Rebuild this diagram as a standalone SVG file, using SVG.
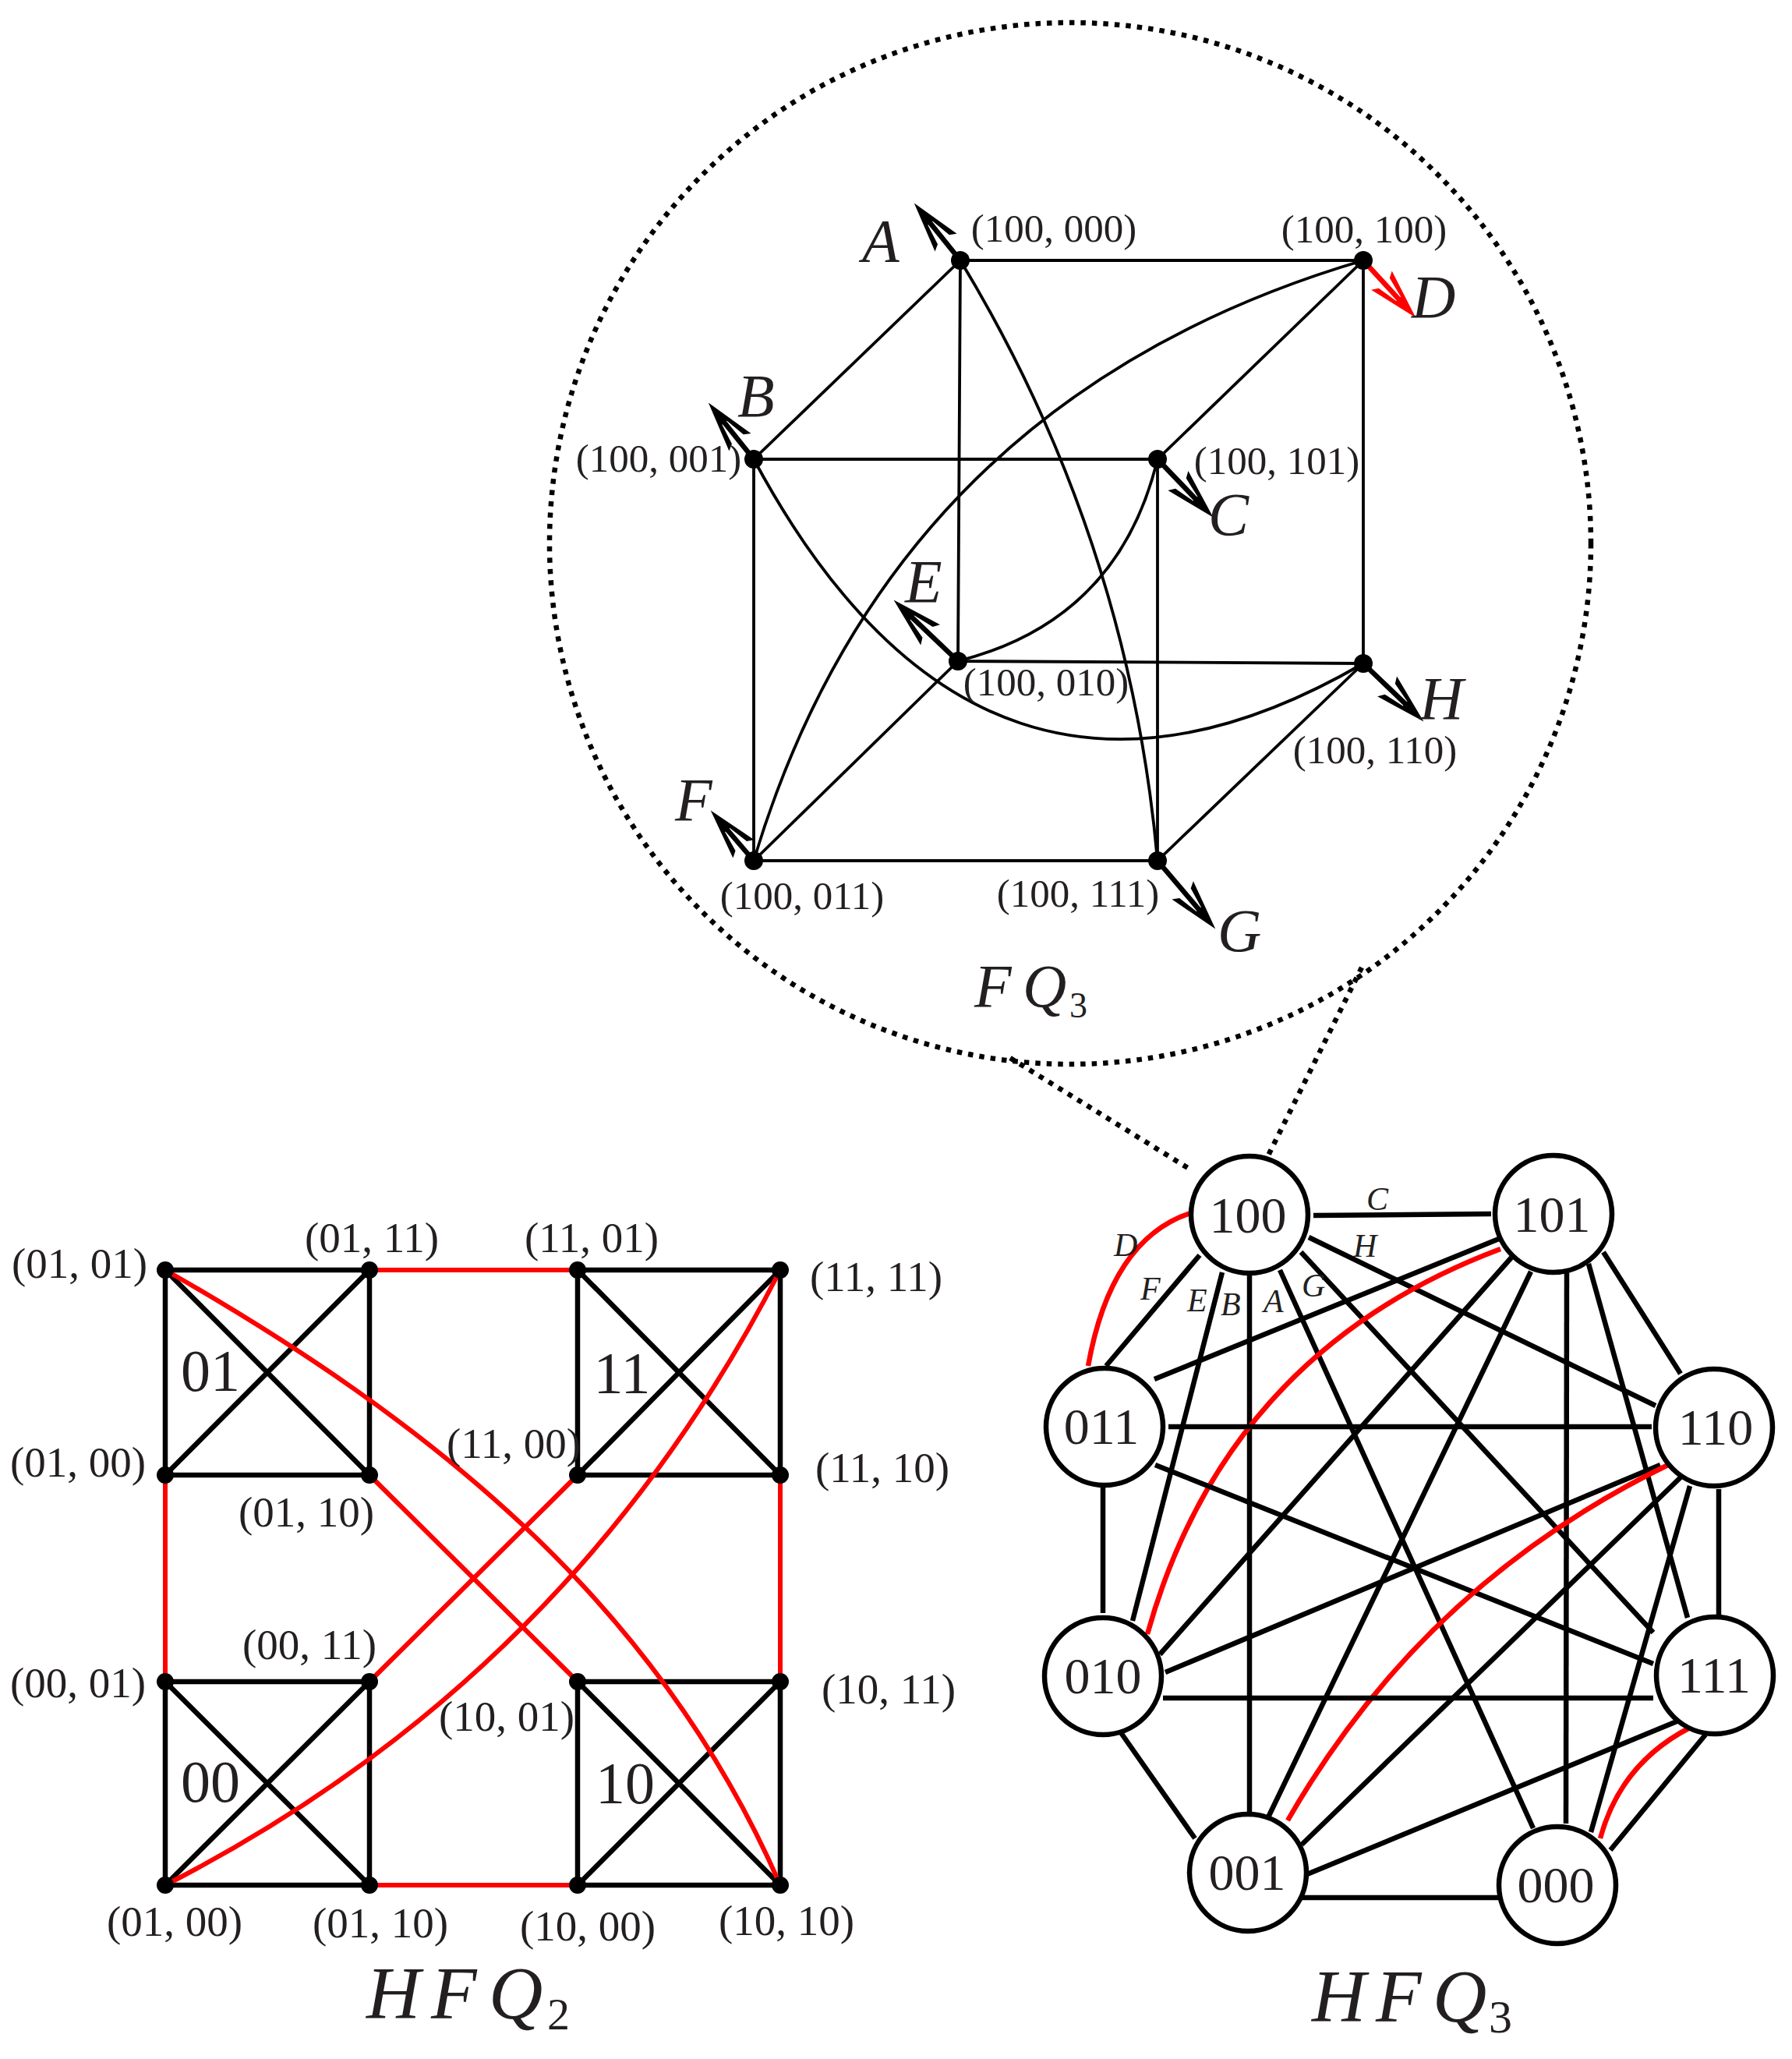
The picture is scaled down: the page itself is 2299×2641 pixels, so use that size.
<svg xmlns="http://www.w3.org/2000/svg" width="2299" height="2641" viewBox="0 0 2299 2641">
<style>
.t{font-family:"Liberation Serif","Times New Roman",serif;fill:#231f20}
.it{font-style:italic}
.m{text-anchor:middle}
.fq{stroke:#000;stroke-width:3.8;fill:none}
.arr{stroke:#000;stroke-width:6.5;fill:none}
.arrR{stroke:#f00;stroke-width:6.5;fill:none}
.h2{stroke:#000;stroke-width:6.5;fill:none}
.r2{stroke:#f00;stroke-width:6;fill:none}
.h3{stroke:#000;stroke-width:6.5;fill:none}
.r3{stroke:#f00;stroke-width:6.5;fill:none}
.dt{stroke:#000;stroke-width:6.5;stroke-dasharray:6.5 8;fill:none}
.nd{fill:#000}
.n3{fill:#fff;stroke:#000;stroke-width:6.5}
.l1{font-size:51px}
.l2{font-size:55px}
.l3{font-size:66px}
.big{font-size:78px}
.eg{font-size:42px}
</style>
<defs>
<marker id="ah" markerUnits="userSpaceOnUse" markerWidth="80" markerHeight="40" refX="0" refY="0" orient="auto" overflow="visible">
<path d="M27,0 L-38,-18 L-33,-9.5 L-6,-4 L-6,4 L-33,9.5 L-38,18 Z" fill="#000"/>
</marker>
<marker id="ahr" markerUnits="userSpaceOnUse" markerWidth="80" markerHeight="40" refX="0" refY="0" orient="auto" overflow="visible">
<path d="M27,0 L-38,-18 L-33,-9.5 L-6,-4 L-6,4 L-33,9.5 L-38,18 Z" fill="#f00"/>
</marker>
</defs>
<rect width="2299" height="2641" fill="#fff"/>

<g id="zoom-lens">
<circle class="dt" cx="1373" cy="697" r="668"/>
<path class="dt" d="M1296,1357 L1527,1500"/>
<path class="dt" d="M1747,1241 L1627,1482"/>
</g>

<g id="fq3-edges">
<path class="fq" d="M1232,334 H1749 M1749,334 V851 M1229,848 L1749,851 M1232,334 L1229,848"/>
<path class="fq" d="M967,589 H1485 M967,1104 H1485 M967,589 V1104 M1485,589 V1104"/>
<path class="fq" d="M1232,334 L967,589 M1749,334 L1485,589 M1229,848 L967,1104 M1749,851 L1485,1104"/>
<path class="fq" d="M1749,334 Q1144,512 967,1104"/>
<path class="fq" d="M1232,334 Q1448,691 1485,1104"/>
<path class="fq" d="M967,589 Q1260,1135 1749,851"/>
<path class="fq" d="M1485,589 Q1435,796 1229,848"/>
</g>

<g id="fq3-arrows">
<path class="arr" d="M1232,334 L1189.7,281.5" marker-end="url(#ah)"/>
<path class="arrR" d="M1749,334 L1798.1,387.6" marker-end="url(#ahr)"/>
<path class="arr" d="M967,589 L925.7,537.5" marker-end="url(#ah)"/>
<path class="arr" d="M1485,589 L1537.7,644" marker-end="url(#ah)"/>
<path class="arr" d="M1229,848 L1166.1,788.2" marker-end="url(#ah)"/>
<path class="arr" d="M967,1104 L929.3,1060" marker-end="url(#ah)"/>
<path class="arr" d="M1485,1104 L1541.8,1170.9" marker-end="url(#ah)"/>
<path class="arr" d="M1749,851 L1807,906.7" marker-end="url(#ah)"/>
<text class="t it big" x="1106" y="335">A</text>
<text class="t it big" x="946" y="534">B</text>
<text class="t it big" x="1550" y="686">C</text>
<text class="t it big" x="1811" y="407">D</text>
<text class="t it big" x="1161" y="772">E</text>
<text class="t it big" x="866" y="1052">F</text>
<text class="t it big" x="1562" y="1220">G</text>
<text class="t it big" x="1821" y="922">H</text>
</g>

<g id="fq3-n000"><circle class="nd" cx="1232" cy="334" r="12"/><text class="t l1 m" x="1352" y="310">(100, 000)</text></g>
<g id="fq3-n100"><circle class="nd" cx="1749" cy="334" r="12"/><text class="t l1 m" x="1750" y="311">(100, 100)</text></g>
<g id="fq3-n001"><circle class="nd" cx="967" cy="589" r="12"/><text class="t l1 m" x="845" y="605">(100, 001)</text></g>
<g id="fq3-n101"><circle class="nd" cx="1485" cy="589" r="12"/><text class="t l1 m" x="1638" y="608">(100, 101)</text></g>
<g id="fq3-n010"><circle class="nd" cx="1229" cy="848" r="12"/><text class="t l1 m" x="1342" y="892">(100, 010)</text></g>
<g id="fq3-n110"><circle class="nd" cx="1749" cy="851" r="12"/><text class="t l1 m" x="1764" y="979">(100, 110)</text></g>
<g id="fq3-n011"><circle class="nd" cx="967" cy="1104" r="12"/><text class="t l1 m" x="1029" y="1166">(100, 011)</text></g>
<g id="fq3-n111"><circle class="nd" cx="1485" cy="1104" r="12"/><text class="t l1 m" x="1383" y="1163">(100, 111)</text></g>

<g id="fq3-title">
<text class="t it" font-size="78" x="1250" y="1291">F</text>
<text class="t it" font-size="78" x="1312" y="1291">Q</text>
<text class="t" font-size="46" x="1372" y="1305">3</text>
</g>

<g id="hfq2-edges">
<path class="h2" d="M212,1629 H474 M212,1892 H474 M212,1629 V1892 M474,1629 V1892 M212,1629 L474,1892 M474,1629 L212,1892"/>
<path class="h2" d="M741,1629 H1001 M741,1892 H1001 M741,1629 V1892 M1001,1629 V1892 M741,1629 L1001,1892 M1001,1629 L741,1892"/>
<path class="h2" d="M212,2157 H474 M212,2418 H474 M212,2157 V2418 M474,2157 V2418 M212,2157 L474,2418 M474,2157 L212,2418"/>
<path class="h2" d="M741,2157 H1001 M741,2418 H1001 M741,2157 V2418 M1001,2157 V2418 M741,2157 L1001,2418 M1001,2157 L741,2418"/>
<path class="r2" d="M474,1629 H741 M212,1892 V2157 M1001,1892 V2157 M474,2418 H741"/>
<path class="r2" d="M474,1892 L741,2157 M741,1892 L474,2157"/>
<path class="r2" d="M212,1629 C546.8,1820.2 841.7,2051.3 1001,2418"/>
<path class="r2" d="M212,2418 C559.9,2239.9 822.9,1976.9 1001,1629"/>
</g>

<g id="hfq2-n0101"><circle class="nd" cx="212" cy="1629" r="11"/><text class="t l2 m" x="102" y="1639">(01, 01)</text></g>
<g id="hfq2-n0111"><circle class="nd" cx="474" cy="1629" r="11"/><text class="t l2 m" x="477" y="1606">(01, 11)</text></g>
<g id="hfq2-n1101"><circle class="nd" cx="741" cy="1629" r="11"/><text class="t l2 m" x="759" y="1606">(11, 01)</text></g>
<g id="hfq2-n1111"><circle class="nd" cx="1001" cy="1629" r="11"/><text class="t l2 m" x="1124" y="1656">(11, 11)</text></g>
<g id="hfq2-n0100"><circle class="nd" cx="212" cy="1892" r="11"/><text class="t l2 m" x="100" y="1894">(01, 00)</text></g>
<g id="hfq2-n0110"><circle class="nd" cx="474" cy="1892" r="11"/><text class="t l2 m" x="393" y="1958">(01, 10)</text></g>
<g id="hfq2-n1100"><circle class="nd" cx="741" cy="1892" r="11"/><text class="t l2 m" x="659" y="1870">(11, 00)</text></g>
<g id="hfq2-n1110"><circle class="nd" cx="1001" cy="1892" r="11"/><text class="t l2 m" x="1132" y="1901">(11, 10)</text></g>
<g id="hfq2-n0001"><circle class="nd" cx="212" cy="2157" r="11"/><text class="t l2 m" x="100" y="2177">(00, 01)</text></g>
<g id="hfq2-n0011"><circle class="nd" cx="474" cy="2157" r="11"/><text class="t l2 m" x="397" y="2128">(00, 11)</text></g>
<g id="hfq2-n1001"><circle class="nd" cx="741" cy="2157" r="11"/><text class="t l2 m" x="650" y="2220">(10, 01)</text></g>
<g id="hfq2-n1011"><circle class="nd" cx="1001" cy="2157" r="11"/><text class="t l2 m" x="1140" y="2185">(10, 11)</text></g>
<g id="hfq2-n0000"><circle class="nd" cx="212" cy="2418" r="11"/><text class="t l2 m" x="224" y="2483">(01, 00)</text></g>
<g id="hfq2-n0010"><circle class="nd" cx="474" cy="2418" r="11"/><text class="t l2 m" x="488" y="2485">(01, 10)</text></g>
<g id="hfq2-n1000"><circle class="nd" cx="741" cy="2418" r="11"/><text class="t l2 m" x="754" y="2489">(10, 00)</text></g>
<g id="hfq2-n1010"><circle class="nd" cx="1001" cy="2418" r="11"/><text class="t l2 m" x="1009" y="2482">(10, 10)</text></g>

<g id="hfq2-clusters">
<text class="t m" font-size="76" x="270" y="1784">01</text>
<text class="t m" font-size="76" x="798" y="1787">11</text>
<text class="t m" font-size="76" x="270" y="2311">00</text>
<text class="t m" font-size="76" x="802" y="2313">10</text>
</g>

<g id="hfq2-title">
<text class="t it" font-size="96" x="470" y="2589">H</text>
<text class="t it" font-size="96" x="553" y="2589">F</text>
<text class="t it" font-size="96" x="627" y="2589">Q</text>
<text class="t" font-size="58" x="702" y="2603">2</text>
</g>

<g id="hfq3-edges">
<path class="h3" d="M1685,1559 L1913,1557"/>
<path class="h3" d="M1679,1587 L2124,1803"/>
<path class="h3" d="M1669,1606 L2121,2094"/>
<path class="h3" d="M1642,1629 L1967,2345"/>
<path class="h3" d="M1603,1636 L1603,2331"/>
<path class="h3" d="M1568,1632 L1453,2079"/>
<path class="h3" d="M1539,1610 L1419,1752"/>
<path class="r3" d="M1527,1556 Q1425,1590 1396,1752"/>
<path class="h3" d="M1923,1589 L1481,1769"/>
<path class="r3" d="M1925,1602 Q1573,1734 1472,2096"/>
<path class="h3" d="M1939,1613 L1488,2122"/>
<path class="h3" d="M1964,1631 L1626,2333"/>
<path class="h3" d="M2010,1632 L2009,2339"/>
<path class="h3" d="M2038,1621 L2165,2075"/>
<path class="h3" d="M2057,1606 L2156,1762"/>
<path class="h3" d="M1499,1830 L2119,1830"/>
<path class="h3" d="M1482,1879 L2121,2134"/>
<path class="h3" d="M1415,1906 L1415,2069"/>
<path class="h3" d="M2130,1879 L1495,2145"/>
<path class="r3" d="M2144,1877 Q1827,2030 1652,2335"/>
<path class="h3" d="M2156,1895 L1670,2366"/>
<path class="h3" d="M2168,1906 L2041,2350"/>
<path class="h3" d="M2205,1910 L2205,2072"/>
<path class="h3" d="M1492,2178 L2121,2178"/>
<path class="h3" d="M1437,2221 L1533,2358"/>
<path class="h3" d="M2156,2206 L1677,2404"/>
<path class="r3" d="M2168,2216 Q2079,2262 2053,2358"/>
<path class="h3" d="M2188,2225 L2066,2373"/>
<path class="h3" d="M1664,2434 L1923,2434"/>
</g>

<g id="hfq3-edge-labels">
<text class="t it eg" x="1753" y="1552">C</text>
<text class="t it eg" x="1736" y="1612">H</text>
<text class="t it eg" x="1670" y="1663">G</text>
<text class="t it eg" x="1621" y="1683">A</text>
<text class="t it eg" x="1566" y="1687">B</text>
<text class="t it eg" x="1523" y="1682">E</text>
<text class="t it eg" x="1463" y="1667">F</text>
<text class="t it eg" x="1429" y="1611">D</text>
</g>

<g id="hfq3-n100"><circle class="n3" cx="1603" cy="1558" r="75"/><text class="t l3 m" x="1601" y="1581">100</text></g>
<g id="hfq3-n101"><circle class="n3" cx="1993" cy="1557" r="75"/><text class="t l3 m" x="1991" y="1580">101</text></g>
<g id="hfq3-n011"><circle class="n3" cx="1417" cy="1830" r="75"/><text class="t l3 m" x="1413" y="1852">011</text></g>
<g id="hfq3-n110"><circle class="n3" cx="2199" cy="1831" r="75"/><text class="t l3 m" x="2201" y="1853">110</text></g>
<g id="hfq3-n010"><circle class="n3" cx="1415" cy="2150" r="75"/><text class="t l3 m" x="1415" y="2172">010</text></g>
<g id="hfq3-n111"><circle class="n3" cx="2200" cy="2149" r="75"/><text class="t l3 m" x="2199" y="2171">111</text></g>
<g id="hfq3-n001"><circle class="n3" cx="1601" cy="2402" r="75"/><text class="t l3 m" x="1600" y="2424">001</text></g>
<g id="hfq3-n000"><circle class="n3" cx="1998" cy="2418" r="75"/><text class="t l3 m" x="1996" y="2440">000</text></g>

<g id="hfq3-title">
<text class="t it" font-size="96" x="1683" y="2593">H</text>
<text class="t it" font-size="96" x="1765" y="2593">F</text>
<text class="t it" font-size="96" x="1838" y="2593">Q</text>
<text class="t" font-size="60" x="1910" y="2607">3</text>
</g>
</svg>
